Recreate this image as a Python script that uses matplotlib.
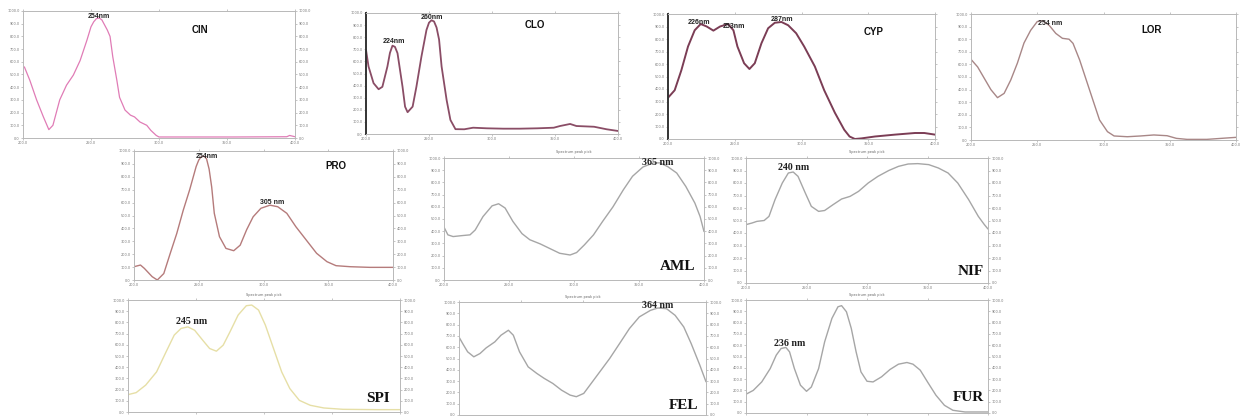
import matplotlib
matplotlib.use("Agg")
import matplotlib.pyplot as plt
import numpy as np

# ---- spectra: wavelength (nm) and relative absorbance (0-1)
cin_wl = [201, 205, 210, 215, 219, 222, 227, 232, 237, 242, 247, 250, 252, 254, 256, 258, 260,
          262, 264, 266, 269, 271, 275, 279, 282, 286, 291, 294, 298, 300, 330, 355, 394, 396,
          400]
cin_abs = [0.56, 0.455, 0.30, 0.166, 0.066, 0.10, 0.30, 0.416, 0.495, 0.61, 0.77, 0.876, 0.915,
           0.94, 0.945, 0.93, 0.89, 0.85, 0.80, 0.64, 0.455, 0.32, 0.22, 0.18, 0.166, 0.126,
           0.10, 0.06, 0.02, 0.008, 0.008, 0.008, 0.01, 0.02, 0.01]

clo_wl = [200, 202, 206, 210, 213, 217, 219, 221, 223, 225, 229, 231, 233, 237, 240, 244, 248,
          250, 252, 254, 256, 258, 260, 264, 267, 271, 278, 285, 296, 309, 322, 336, 349, 354,
          362, 367, 381, 391, 400]
clo_abs = [0.696, 0.558, 0.42, 0.37, 0.39, 0.558, 0.67, 0.73, 0.72, 0.668, 0.39, 0.226, 0.18,
           0.226, 0.39, 0.64, 0.86, 0.92, 0.94, 0.93, 0.88, 0.78, 0.558, 0.28, 0.116, 0.04,
           0.039, 0.052, 0.047, 0.044, 0.044, 0.047, 0.052, 0.066, 0.083, 0.066, 0.06, 0.039,
           0.025]

cyp_wl = [200, 205, 210, 215, 220, 224.5, 229, 234, 239, 245, 249, 252, 257, 261, 265, 270,
          275, 280, 285, 290, 296, 302, 310, 317, 325, 332, 336, 340, 345, 355, 370, 385, 392,
          400]
cyp_abs = [0.33, 0.39, 0.55, 0.74, 0.87, 0.92, 0.90, 0.867, 0.90, 0.92, 0.87, 0.74, 0.606,
           0.56, 0.606, 0.766, 0.886, 0.93, 0.936, 0.91, 0.846, 0.74, 0.58, 0.39, 0.21, 0.074,
           0.02, 0.0, 0.005, 0.02, 0.035, 0.048, 0.048, 0.035]

lor_wl = [200, 205, 210, 215, 220, 225, 230, 235, 240, 245, 250, 254, 259, 264, 269, 274, 277,
          282, 287, 292, 297, 303, 308, 318, 328, 338, 348, 355, 363, 378, 393, 400]
lor_abs = [0.64, 0.58, 0.49, 0.40, 0.336, 0.37, 0.476, 0.61, 0.77, 0.87, 0.94, 0.947, 0.91,
           0.846, 0.807, 0.80, 0.767, 0.635, 0.476, 0.317, 0.159, 0.066, 0.032, 0.026, 0.032,
           0.04, 0.034, 0.013, 0.005, 0.005, 0.016, 0.021]

pro_wl = [200, 205, 208, 214, 218, 223, 228, 233, 238, 243, 248, 250, 252, 254, 256, 258, 260,
          262, 266, 271, 277, 282, 287, 292, 298, 305, 311, 318, 325, 333, 341, 349, 356, 367,
          382, 400]
pro_abs = [0.103, 0.116, 0.09, 0.026, 0.0, 0.05, 0.207, 0.36, 0.54, 0.70, 0.88, 0.93, 0.956,
           0.96, 0.94, 0.86, 0.72, 0.517, 0.336, 0.245, 0.227, 0.27, 0.39, 0.49, 0.556, 0.58,
           0.568, 0.517, 0.413, 0.31, 0.207, 0.142, 0.111, 0.103, 0.098, 0.098]

aml_wl = [200, 203, 207, 214, 220, 224, 230, 237, 242, 247, 253, 260, 266, 274, 281, 289, 297,
          302, 308, 315, 322, 330, 338, 345, 353, 361, 366, 372, 379, 386, 393, 397, 400]
aml_abs = [0.433, 0.37, 0.356, 0.364, 0.37, 0.41, 0.52, 0.608, 0.625, 0.59, 0.48, 0.38, 0.33,
           0.296, 0.26, 0.219, 0.205, 0.225, 0.288, 0.37, 0.48, 0.60, 0.74, 0.85, 0.926, 0.96,
           0.96, 0.93, 0.877, 0.767, 0.63, 0.52, 0.397]

nif_wl = [200, 205, 209, 215, 219, 224, 230, 235, 239, 243, 249, 254, 260, 265, 272, 279, 286,
          293, 301, 309, 318, 326, 334, 342, 351, 359, 367, 375, 384, 392, 397, 400]
nif_abs = [0.467, 0.48, 0.493, 0.50, 0.533, 0.667, 0.80, 0.88, 0.888, 0.853, 0.72, 0.613,
           0.573, 0.58, 0.627, 0.672, 0.693, 0.733, 0.80, 0.853, 0.90, 0.933, 0.952, 0.955,
           0.947, 0.92, 0.88, 0.80, 0.667, 0.533, 0.467, 0.432]

spi_wl = [200, 206, 213, 221, 228, 234, 239, 244, 249, 255, 260, 265, 270, 275, 281, 287, 291,
          296, 301, 307, 313, 319, 326, 334, 344, 358, 383, 400]
spi_abs = [0.155, 0.173, 0.24, 0.358, 0.537, 0.687, 0.746, 0.76, 0.73, 0.64, 0.567, 0.543,
           0.597, 0.716, 0.866, 0.949, 0.955, 0.91, 0.776, 0.567, 0.358, 0.209, 0.104, 0.06,
           0.036, 0.024, 0.021, 0.021]

fel_wl = [200, 203, 207, 212, 217, 222, 229, 234, 240, 244, 249, 256, 263, 269, 276, 283, 290,
          295, 301, 307, 314, 322, 330, 338, 346, 355, 361, 368, 375, 382, 388, 395, 400]
fel_abs = [0.69, 0.632, 0.559, 0.515, 0.544, 0.594, 0.647, 0.706, 0.75, 0.706, 0.559, 0.426,
           0.368, 0.324, 0.279, 0.22, 0.176, 0.162, 0.191, 0.279, 0.382, 0.50, 0.632, 0.765,
           0.868, 0.926, 0.947, 0.941, 0.882, 0.779, 0.632, 0.441, 0.294]

fur_wl = [200, 206, 213, 220, 225, 229, 233, 236, 240, 245, 250, 254, 260, 265, 271, 276, 279,
          283, 287, 291, 295, 300, 305, 312, 319, 326, 333, 338, 344, 350, 357, 364, 371, 381,
          400]
fur_abs = [0.166, 0.20, 0.275, 0.393, 0.512, 0.571, 0.58, 0.541, 0.393, 0.246, 0.192, 0.23,
           0.393, 0.63, 0.837, 0.94, 0.95, 0.896, 0.749, 0.541, 0.364, 0.281, 0.275, 0.32,
           0.385, 0.432, 0.447, 0.432, 0.379, 0.275, 0.157, 0.068, 0.024, 0.009, 0.009]

# peak labels: (text, wavelength)
cin_peaks = [("254nm", 256)]
clo_peaks = [("224nm", 222), ("260nm", 252)]
cyp_peaks = [("226nm", 223), ("253nm", 249), ("287nm", 285)]
lor_peaks = [("254 nm", 260)]
pro_peaks = [("254nm", 256), ("305 nm", 307)]
aml_peaks = [("365 nm", 364)]
nif_peaks = [("240 nm", 239)]
spi_peaks = [("245 nm", 247)]
fel_peaks = [("364 nm", 361)]
fur_peaks = [("236 nm", 236)]

x_ticks = [200, 250, 300, 350, 400]
y_ticks = np.linspace(0, 1, 11)

W, H = 1241, 416
fig = plt.figure(figsize=(W / 100, H / 100), dpi=100)
fig.patch.set_facecolor("white")


def panel(box, wl, ab, color, lw, name, peaks, serif=False, right=True, bottom=True,
          dark_left=False, name_xy=(0.78, 0.88), peak_pad=0.01):
    l, t, r, b = box
    ax = fig.add_axes([l / W, 1 - b / H, (r - l) / W, (b - t) / H])
    ax.plot(wl, ab, color=color, lw=lw, solid_joinstyle="round", solid_capstyle="round")
    ax.set_xlim(200, 400)
    ax.set_ylim(0, 1.0)
    for s in ax.spines.values():
        s.set_color("#b8b8b8")
        s.set_linewidth(0.7)
    if dark_left:
        ax.spines["left"].set_color("#333333")
        ax.spines["left"].set_linewidth(1.4)
    ax.set_xticks(x_ticks)
    ax.set_xticklabels([f"{v}.0" for v in x_ticks])
    ax.set_yticks(y_ticks)
    ax.set_yticklabels([f"{v * 1000:.0f}.0" for v in y_ticks])
    ax.tick_params(labelsize=2.5, labelcolor="#777777", length=1.5, width=0.4, color="#999999",
                   pad=1, top=True, right=True, labelright=right, labelbottom=bottom)
    fam = "Liberation Serif" if serif else "Liberation Sans"
    pfs = 7.2 if serif else 5
    for txt, w in peaks:
        y = np.interp(w, wl, ab)
        ax.text(w, min(y + peak_pad, 0.93), txt, ha="center", va="bottom", fontsize=pfs,
                fontweight="bold", family=fam, color="#222222")
    nfs = 11 if serif else 7
    ax.text(name_xy[0], name_xy[1], name, transform=ax.transAxes, ha="center", va="center",
            fontsize=nfs, fontweight="bold", family=fam, color="#111111")
    if serif:
        ax.text(0.5, 1.03, "Spectrum peak pick", transform=ax.transAxes, ha="center",
                va="bottom", fontsize=2.5, color="#666666")
    return ax


panel((23, 11, 295, 138), cin_wl, cin_abs, "#e07cb6", 0.9, "CIN", cin_peaks,
      name_xy=(0.65, 0.85), peak_pad=0.0)
panel((366, 13, 618, 134), clo_wl, clo_abs, "#8a4d66", 1.3, "CLO", clo_peaks,
      right=False, dark_left=True, name_xy=(0.67, 0.90), peak_pad=0.01)
panel((668, 14, 935, 139), cyp_wl, cyp_abs, "#7b3d55", 1.4, "CYP", cyp_peaks,
      right=False, dark_left=True, name_xy=(0.77, 0.86), peak_pad=0.0)
panel((971, 14, 1236, 140), lor_wl, lor_abs, "#a88787", 1.0, "LOR", lor_peaks,
      right=False, name_xy=(0.68, 0.87), peak_pad=0.0)
panel((134, 151, 393, 280), pro_wl, pro_abs, "#b57b7b", 1.0, "PRO", pro_peaks,
      name_xy=(0.78, 0.88), peak_pad=0.0)
panel((444, 158, 704, 280), aml_wl, aml_abs, "#a6a6a6", 1.0, "AML", aml_peaks, serif=True,
      name_xy=(0.90, 0.11), peak_pad=0.0)
panel((746, 158, 988, 283), nif_wl, nif_abs, "#a6a6a6", 1.0, "NIF", nif_peaks, serif=True,
      name_xy=(0.93, 0.09), peak_pad=0.0)
panel((128, 300, 400, 412), spi_wl, spi_abs, "#e6dfa6", 1.0, "SPI", spi_peaks, serif=True,
      bottom=False, name_xy=(0.92, 0.12), peak_pad=0.03)
panel((459, 302, 706, 415), fel_wl, fel_abs, "#a6a6a6", 1.0, "FEL", fel_peaks, serif=True,
      bottom=False, name_xy=(0.91, 0.08), peak_pad=0.0)
panel((746, 300, 988, 413), fur_wl, fur_abs, "#a6a6a6", 1.0, "FUR", fur_peaks, serif=True,
      bottom=False, name_xy=(0.92, 0.14), peak_pad=0.03)

fig.savefig("out.png", dpi=100)
